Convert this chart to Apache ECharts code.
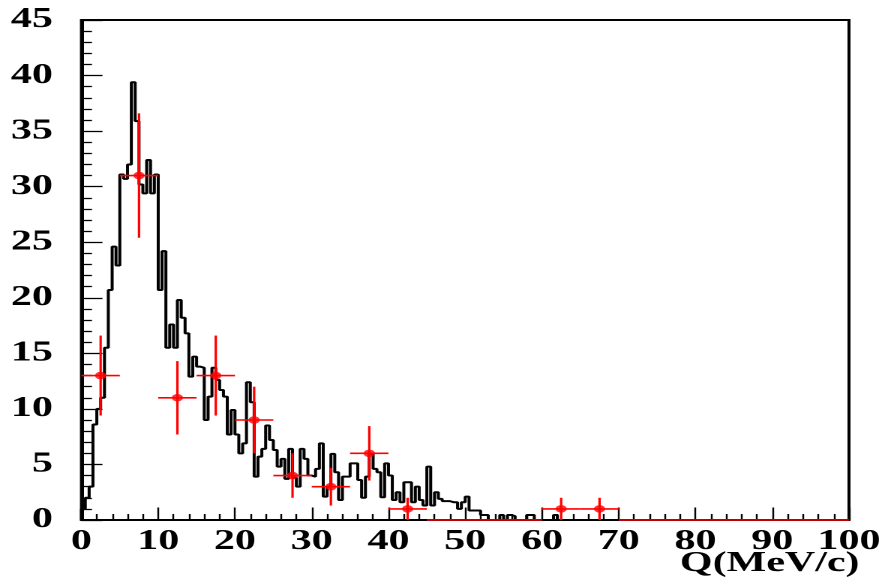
<!DOCTYPE html>
<html>
<head>
<meta charset="utf-8">
<script src="https://cdn.jsdelivr.net/npm/echarts@6/dist/echarts.min.js"></script>
<style>
html,body{margin:0;padding:0;background:#fff;overflow:hidden;}
#wrap{width:885px;height:579px;overflow:hidden;position:relative;}
#chart{width:590px;height:579px;transform:scaleX(1.5);transform-origin:0 0;}
</style>
</head>
<body>
<div id="wrap"><div id="chart"></div></div>
<script>
// ---- data ----
const binWidth = 0.5;
const histValues = [
  1.0, 2.0, 3.0, 8.6, 10.0, 11.0, 15.5, 20.7, 24.6, 22.9,
  31.1, 30.7, 32.0, 39.4, 35.9, 30.2, 29.4, 32.4, 29.4, 31.1,
  20.7, 24.2, 15.5, 17.6, 15.5, 19.8, 18.2, 16.8, 12.9, 14.7,
  13.8, 13.7, 9.0, 11.1, 13.7, 12.6, 11.7, 11.1, 7.7, 9.9,
  7.7, 6.0, 6.9, 12.4, 10.6, 3.9, 5.7, 6.4, 8.5, 7.2,
  6.3, 4.8, 5.5, 3.7, 6.4, 3.8, 3.0, 6.4, 5.5, 4.0,
  3.9, 4.6, 6.9, 2.1, 3.0, 5.95, 4.3, 1.8, 3.9, 3.9,
  5.1, 5.1, 3.6, 2.0, 3.9, 5.95, 4.6, 4.3, 2.05, 5.1,
  4.0, 1.8, 2.5, 1.6, 3.4, 3.4, 1.6, 3.0, 1.8, 1.3,
  4.8, 1.3, 2.5, 1.9, 1.7, 1.7, 1.6, 1.6, 1.0, 1.6,
  2.1, 0.85, 0.85, 0.85, 0.45, 0.45, 0, 0, 0, 0.45,
  0, 0.45, 0.35, 0, 0, 0, 0.45, 0.45, 0, 0,
  0, 0, 0, 0.45
];
const pointX    = [2.5, 7.5, 12.5, 17.5, 22.5, 27.5, 32.5, 37.5, 42.5, 47.5, 52.5, 57.5, 62.5, 67.5, 72.5, 77.5, 82.5, 87.5, 92.5, 97.5];
const pointY    = [13, 31, 11, 13, 9, 4, 3, 6, 1, 0, 0, 0, 1, 1, 0, 0, 0, 0, 0, 0];
const pointXErr = [2.5, 2.5, 2.5, 2.5, 2.5, 2.5, 2.5, 2.5, 2.5, 2.5, 2.5, 2.5, 2.5, 2.5, 2.5, 2.5, 2.5, 2.5, 2.5, 2.5];
const pointYErr = [3.6, 5.6, 3.3, 3.6, 3.0, 2.0, 1.7, 2.45, 1.0, 0, 0, 0, 1.0, 1.0, 0, 0, 0, 0, 0, 0];
const xTickLabels = ['0','10','20','30','40','50','60','70','80','90','100'];
const yTickLabels = ['0','5','10','15','20','25','30','35','40','45'];
const xAxisTitle = 'Q(MeV/c)';

// ---- build series data ----
const stepData = [[0, 0]];
histValues.forEach((v, i) => stepData.push([i * binWidth, v]));
stepData.push([histValues.length * binWidth, 0]);
stepData.push([100, 0]);

const errData = pointX.map((x, i) => [x, pointY[i], pointXErr[i], pointYErr[i]]);
const markerData = pointX.map((x, i) => [x, pointY[i]]).filter(p => p[1] > 0);

const FONT = '"Liberation Serif", "DejaVu Serif", serif';
const labelStyle = {color: '#000', fontFamily: FONT, fontWeight: 'bold', fontSize: 28};

const chart = echarts.init(document.getElementById('chart'), null, {renderer: 'canvas', devicePixelRatio: 2});
chart.setOption({
  animation: false,
  backgroundColor: '#fff',
  grid: {left: 54.3, right: 19.3, top: 20, bottom: 59, show: true, borderColor: '#000', borderWidth: 2, backgroundColor: 'transparent'},
  xAxis: {
    type: 'value', min: 0, max: 100, interval: 10,
    axisLine: {show: true, onZero: false, lineStyle: {color: '#000', width: 2}},
    axisTick: {show: true, inside: true, length: 12.5, lineStyle: {color: '#000', width: 1.2}},
    minorTick: {show: true, splitNumber: 5, length: 6, lineStyle: {color: '#000', width: 1.2}},
    splitLine: {show: false},
    axisLabel: Object.assign({margin: 8, showMinLabel: true, showMaxLabel: true, hideOverlap: false,
      formatter: (v) => xTickLabels[Math.round(v / 10)]}, labelStyle)
  },
  yAxis: {
    type: 'value', min: 0, max: 45, interval: 5,
    axisLine: {show: true, onZero: false, lineStyle: {color: '#000', width: 2}},
    axisTick: {show: true, inside: true, length: 14, lineStyle: {color: '#000', width: 1.3}},
    minorTick: {show: true, splitNumber: 5, length: 7, lineStyle: {color: '#000', width: 1.3}},
    splitLine: {show: false},
    axisLabel: Object.assign({margin: 19, showMinLabel: true, showMaxLabel: true, hideOverlap: false,
      formatter: (v) => yTickLabels[Math.round(v / 5)]}, labelStyle)
  },
  graphic: [{
    type: 'text', right: 17, top: 550,
    style: {text: xAxisTitle, fill: '#000', font: 'bold 28px ' + FONT}
  }],
  series: [
    {
      type: 'line', data: stepData, step: 'end', showSymbol: false, symbol: 'none',
      lineStyle: {color: '#000', width: 2}, z: 2, clip: true
    },
    {
      type: 'custom', z: 3, clip: false,
      data: errData,
      renderItem: function (params, api) {
        const x = api.value(0), y = api.value(1), ex = api.value(2), ey = api.value(3);
        const l = api.coord([x - ex, y]);
        const r = api.coord([x + ex, y]);
        const t = api.coord([x, y + ey]);
        const b = api.coord([x, y - ey]);
        const st = {stroke: '#ff0000', lineWidth: 1.6};
        const children = [{type: 'line', shape: {x1: l[0], y1: l[1], x2: r[0], y2: r[1]}, style: st}];
        if (ey > 0) children.push({type: 'line', shape: {x1: t[0], y1: t[1], x2: b[0], y2: b[1]}, style: st});
        return {type: 'group', children: children};
      }
    },
    {
      type: 'scatter', data: markerData, symbol: 'circle', symbolSize: 7.5, z: 4,
      itemStyle: {color: '#ff0000'}
    }
  ]
});
</script>
</body>
</html>
